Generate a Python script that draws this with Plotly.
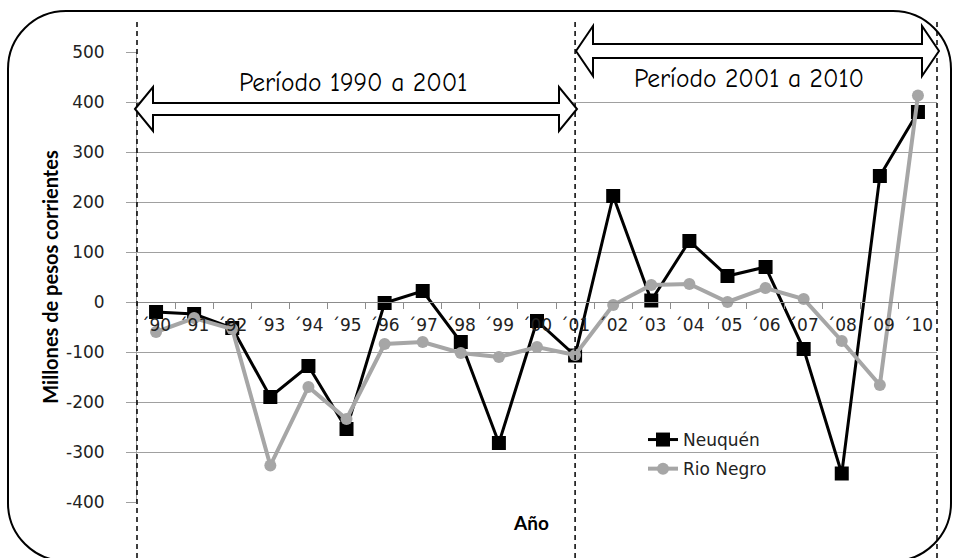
import plotly.graph_objects as go

# ---------------- data ----------------
years = ["´90", "´91", "´92", "´93", "´94", "´95", "´96", "´97", "´98", "´99", "´00",
         "´01", "´02", "´03", "´04", "´05", "´06", "´07", "´08", "´09", "´10"]
neuquen = [-20, -24, -52, -190, -128, -254, -2, 22, -80, -282, -38,
           -107, 212, 3, 122, 52, 70, -94, -343, 252, 380]
rio_negro = [-60, -32, -54, -327, -170, -234, -84, -80, -102, -110, -90,
             -106, -6, 34, 36, 0, 28, 6, -78, -166, 413]
period_labels = ["Período 1990 a 2001", "Período 2001 a 2010"]
y_ticks = [-400, -300, -200, -100, 0, 100, 200, 300, 400, 500]
y_tick_text = ["-400", "-300", "-200", "-100", "0", "100", "200", "300", "400", "500"]

# ---------------- geometry helpers (pixel -> paper) ----------------
W, H = 958, 558
L, R, T, B = 137, 21, 52, 56
PW, PH = W - L - R, H - T - B


def fx(px):
    return (px - L) / PW


def fy(py):
    return (H - B - py) / PH


def arrow_path(xl, xr, yc, hh, sh, hl):
    pts = [(xl, yc), (xl + hl, yc - hh), (xl + hl, yc - sh), (xr - hl, yc - sh),
           (xr - hl, yc - hh), (xr, yc), (xr - hl, yc + hh), (xr - hl, yc + sh),
           (xl + hl, yc + sh), (xl + hl, yc + hh)]
    d = "M " + " L ".join(f"{fx(x):.5f},{fy(y):.5f}" for x, y in pts) + " Z"
    return d


def rounded_rect(x0, y0, x1, y1, r):
    k = 0.5523 * r
    segs = [
        ("M", [(x0 + r, y0)]),
        ("L", [(x1 - r, y0)]),
        ("C", [(x1 - r + k, y0), (x1, y0 + r - k), (x1, y0 + r)]),
        ("L", [(x1, y1 - r)]),
        ("C", [(x1, y1 - r + k), (x1 - r + k, y1), (x1 - r, y1)]),
        ("L", [(x0 + r, y1)]),
        ("C", [(x0 + r - k, y1), (x0, y1 - r + k), (x0, y1 - r)]),
        ("L", [(x0, y0 + r)]),
        ("C", [(x0, y0 + r - k), (x0 + r - k, y0), (x0 + r, y0)]),
    ]
    out = []
    for cmd, pts in segs:
        out.append(cmd + " " + " ".join(f"{fx(x):.5f},{fy(y):.5f}" for x, y in pts))
    return " ".join(out) + " Z"


n = len(years)

fig = go.Figure()
fig.add_trace(go.Scatter(
    x=years, y=neuquen, name="Neuquén", mode="lines+markers",
    line=dict(color="black", width=3),
    marker=dict(symbol="square", size=14, color="black"),
    legendgroup="a",
))
fig.add_trace(go.Scatter(
    x=years, y=rio_negro, name="Rio Negro", mode="lines+markers",
    line=dict(color="#A6A6A6", width=4),
    marker=dict(symbol="circle", size=12, color="#A6A6A6"),
    legendgroup="b",
))

tick_font = dict(family="DejaVu Sans", size=17, color="#222222")

fig.update_layout(
    width=W, height=H,
    margin=dict(l=L, r=R, t=T, b=B, pad=0),
    paper_bgcolor="white", plot_bgcolor="white",
    showlegend=True,
    legend=dict(
        x=fx(643), y=fy(422), xanchor="left", yanchor="top",
        font=dict(family="DejaVu Sans", size=17, color="#222222"),
        bgcolor="rgba(0,0,0,0)", tracegroupgap=4,
        traceorder="grouped",
    ),
    xaxis=dict(
        type="category", categoryorder="array", categoryarray=years,
        range=[-0.5, n - 0.5],
        showgrid=False, zeroline=False,
        showline=True, linecolor="#8C8C8C", linewidth=1,
        ticks="outside", ticklen=6, tickcolor="#8C8C8C", tickson="boundaries",
        ticklabelstandoff=8, tickangle=0,
        tickfont=tick_font,
        anchor="free", position=400 / 900,
    ),
    yaxis=dict(
        range=[-400, 500], tickvals=y_ticks, ticktext=y_tick_text,
        showgrid=True, gridcolor="#A0A0A0", gridwidth=1,
        zeroline=False,
        showline=True, linecolor="#A0A0A0", linewidth=1,
        ticks="outside", ticklen=10, tickcolor="#A0A0A0",
        ticklabelstandoff=18,
        tickfont=tick_font,
        title=dict(text="<b>Millones de pesos corrientes</b>",
                   font=dict(family="Lato", size=20, color="black"),
                   standoff=2),
    ),
)

shapes = []
# rounded frame
shapes.append(dict(type="path", xref="paper", yref="paper",
                   path=rounded_rect(8, 11, 951, 561, 58),
                   line=dict(color="black", width=2), fillcolor="rgba(0,0,0,0)",
                   layer="above"))
# dashed vertical separators at start, 2001 and end
for idx in [-0.5, 11, n - 0.5]:
    xp = (idx + 0.5) / n
    shapes.append(dict(type="line", xref="paper", yref="paper",
                       x0=xp, x1=xp, y0=fy(22), y1=fy(H + 2),
                       line=dict(color="black", width=1.5, dash="5px,4px"),
                       layer="above"))
# double-headed block arrows
shapes.append(dict(type="path", xref="paper", yref="paper",
                   path=arrow_path(135, 577, 109, 22, 6, 18),
                   line=dict(color="black", width=2), fillcolor="white",
                   layer="above"))
shapes.append(dict(type="path", xref="paper", yref="paper",
                   path=arrow_path(576, 939, 51, 25, 7, 17),
                   line=dict(color="black", width=2), fillcolor="white",
                   layer="above"))
fig.update_layout(shapes=shapes)

period_font = dict(family="Comic Sans MS, Comic Neue, Lato", size=25.5, color="black")
fig.add_annotation(text=period_labels[0], xref="paper", yref="paper",
                   x=fx(353), y=fy(82), xanchor="center", yanchor="middle",
                   showarrow=False, font=period_font)
fig.add_annotation(text=period_labels[1], xref="paper", yref="paper",
                   x=fx(749), y=fy(78), xanchor="center", yanchor="middle",
                   showarrow=False, font=period_font)
fig.add_annotation(text="<b>Año</b>", xref="paper", yref="paper",
                   x=fx(531), y=fy(522), xanchor="center", yanchor="middle",
                   showarrow=False,
                   font=dict(family="Lato", size=19, color="black"))

fig.write_html("out.html")
